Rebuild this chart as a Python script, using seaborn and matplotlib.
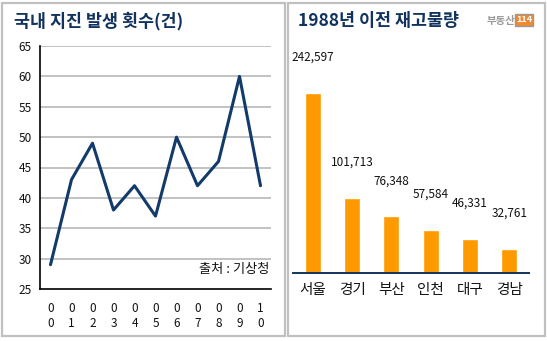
import matplotlib
matplotlib.use("Agg")
import matplotlib.pyplot as plt
import seaborn as sns
import numpy as np
import pandas as pd
from matplotlib.patches import Rectangle
from matplotlib.ticker import FixedLocator

# ---- data ----
years = ["00", "01", "02", "03", "04", "05", "06", "07", "08", "09", "10"]
quake_counts = [29, 43, 49, 38, 42, 37, 50, 42, 46, 60, 42]
y_ticks = [25, 30, 35, 40, 45, 50, 55, 60, 65]

regions = ["서울", "경기", "부산", "인천", "대구", "경남"]
stock = [242597, 101713, 76348, 57584, 46331, 32761]

left_title = "국내 지진 발생 횟수(건)"
right_title = "1988년 이전 재고물량"
source_text = "출처 : 기상청"

sns.set_theme(style="white")
plt.rcParams['font.family'] = ['Noto Sans CJK KR', 'DejaVu Sans']

W, H = 547, 341
fig = plt.figure(figsize=(W / 100, H / 100), dpi=100)
fig.patch.set_facecolor("white")

def px_axes(x0, y_top, x1, y_bot):
    return fig.add_axes([x0 / W, (H - y_bot) / H, (x1 - x0) / W, (y_bot - y_top) / H])

def px(x, y):
    return x / W, (H - y) / H

navy = "#12335f"
line_col = "#123a6a"
grey_box = "#c0c0c0"

# panel boxes
for (x0, y0, x1, y1) in [(2, 3, 285, 336), (288, 3, 545, 336)]:
    fig.patches.append(Rectangle(((x0) / W, (H - y1) / H), (x1 - x0) / W, (y1 - y0) / H,
                                 transform=fig.transFigure, fill=False,
                                 edgecolor=grey_box, linewidth=1.6))

# ---- left chart ----
ax = px_axes(40, 46, 271, 289)
df1 = pd.DataFrame({"year": years, "count": quake_counts})
sns.lineplot(data=df1, x="year", y="count", ax=ax, color=line_col, linewidth=2.2)
ax.set_xlim(-0.5, len(years) - 0.5)
ax.set_ylim(25, 65)
ax.set_yticks(y_ticks)
ax.set_yticklabels([str(v) for v in y_ticks], fontsize=8.5, color="#111111")
ax.set_xticks(range(len(years)))
ax.set_xticklabels([f"{y[0]}\n{y[1]}" for y in years], fontsize=8.5,
                   color="#111111", linespacing=1.25)
ax.xaxis.set_minor_locator(FixedLocator([i + 0.5 for i in range(len(years))]))
ax.tick_params(axis="x", which="major", length=0, pad=9)
ax.tick_params(axis="x", which="minor", length=5, width=1.2, color="black", direction="out")
ax.tick_params(axis="y", length=0, pad=6)
ax.set_xlabel("")
ax.set_ylabel("")
for v in y_ticks[1:]:
    ax.axhline(v, color="#bdbdbd", linewidth=1.3, zorder=0)
for s in ["top", "right"]:
    ax.spines[s].set_visible(False)
ax.spines["left"].set_color("black")
ax.spines["bottom"].set_color("black")
ax.spines["left"].set_linewidth(1.2)
ax.spines["bottom"].set_linewidth(1.2)
ax.text(0.995, 0.055, source_text, transform=ax.transAxes, ha="right", va="bottom",
        fontsize=9.5, color="#111111")

fig.text(*px(14, 21), left_title, fontsize=12.5, fontweight="bold", color=navy,
         ha="left", va="center")

# ---- right chart ----
ax2 = px_axes(293, 40, 529, 273)
df2 = pd.DataFrame({"region": regions, "stock": stock})
sns.barplot(data=df2, x="region", y="stock", ax=ax2, color="#ff9900",
            saturation=1, width=0.41)
ax2.set_xlim(-0.5, len(regions) - 0.5)
ax2.set_ylim(0, max(stock) * 233 / 180)
ax2.set_yticks([])
ax2.set_xlabel("")
ax2.set_ylabel("")
ax2.tick_params(axis="x", which="major", length=0, pad=7, labelsize=10.5, labelcolor="#111111")
ax2.xaxis.set_minor_locator(FixedLocator([i - 0.5 for i in range(len(regions) + 1)]))
ax2.tick_params(axis="x", which="minor", length=4, width=1.2, color=navy, direction="in")
for s in ["top", "right", "left"]:
    ax2.spines[s].set_visible(False)
ax2.spines["bottom"].set_color(navy)
ax2.spines["bottom"].set_linewidth(1.4)
for i, v in enumerate(stock):
    ax2.annotate(f"{v:,}", (i, v), xytext=(0, 21), textcoords="offset points",
                 ha="center", va="bottom", fontsize=8.5, color="#111111")

fig.text(*px(298, 21), right_title, fontsize=12.5, fontweight="bold", color=navy,
         ha="left", va="center")
fig.text(*px(515, 21), "부동산", fontsize=7.5, fontweight="bold", color="#9a9a9a",
         ha="right", va="center")
fig.text(*px(524, 20), "114", fontsize=6.5, fontweight="bold", color="white",
         ha="center", va="center",
         bbox=dict(boxstyle="square,pad=0.15", facecolor="#f08a30", edgecolor="#999999",
                   linewidth=1))

fig.savefig("out.png", dpi=100, facecolor="white")
